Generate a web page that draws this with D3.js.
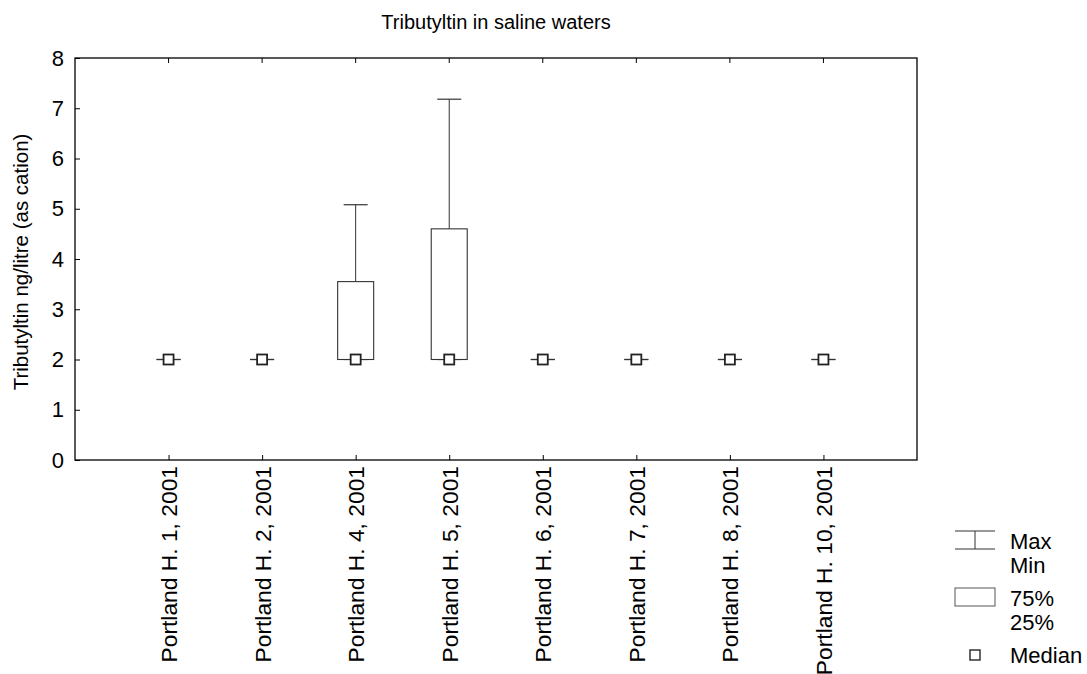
<!DOCTYPE html>
<html><head><meta charset="utf-8">
<script src="https://cdn.jsdelivr.net/npm/d3@7"></script>
<style>body{margin:0;background:#fff}svg{display:block;font-family:Arial,"Liberation Sans",sans-serif}</style>
</head><body>
<svg id="c" width="1087" height="674"></svg>
<script>
const categories = ["Portland H. 1, 2001","Portland H. 2, 2001","Portland H. 4, 2001","Portland H. 5, 2001","Portland H. 6, 2001","Portland H. 7, 2001","Portland H. 8, 2001","Portland H. 10, 2001"];
const minValues = [2,2,2,2,2,2,2,2];
const q25Values = [2,2,2,2,2,2,2,2];
const medianValues = [2,2,2,2,2,2,2,2];
const q75Values = [2,2,3.55,4.6,2,2,2,2];
const maxValues = [2,2,5.08,7.18,2,2,2,2];
const yTicks = [0,1,2,3,4,5,6,7,8];
const legendLabels = ["Max","Min","75%","25%","Median"];

const FONT = "Arial,'Liberation Sans',sans-serif";
const svg = d3.select("#c");
const L = 75, R = 917, T = 58, B = 460;
const y = d3.scaleLinear().domain([0,8]).range([B,T]);
const x = d3.scalePoint().domain(["_s",...categories,"_e"]).range([L,R]);
const data = categories.map((c,i)=>({c,min:minValues[i],q25:q25Values[i],med:medianValues[i],q75:q75Values[i],max:maxValues[i]}));

// title
svg.append("text").attr("x",496).attr("y",29).attr("text-anchor","middle").attr("font-size",20).text("Tributyltin in saline waters");

// frame
svg.append("rect").attr("x",L).attr("y",T).attr("width",R-L).attr("height",B-T).attr("fill","none").attr("stroke","#000").attr("stroke-width",1.3);

// y axis
const ya = svg.append("g").attr("transform",`translate(${L},0)`).call(d3.axisLeft(y).tickValues(yTicks).tickSize(-5).tickPadding(11).tickFormat(d3.format("d")));
ya.select(".domain").remove();
ya.selectAll("text").attr("font-size",22).attr("font-family",FONT).attr("fill","#000");
ya.selectAll("line").attr("stroke","#000");

// x axis (bottom ticks inward, labels rotated)
const xa = svg.append("g").attr("transform",`translate(0,${B})`).call(d3.axisBottom(x).tickValues(categories).tickSize(-5).tickFormat(d=>d));
xa.select(".domain").remove();
xa.selectAll("line").attr("stroke","#000");
xa.selectAll("text").attr("font-size",22.8).attr("font-family",FONT).attr("fill","#000")
  .attr("transform","rotate(-90)").attr("text-anchor","end").attr("x",-6).attr("y",0).attr("dy","0.35em");
// top ticks inward
svg.append("g").attr("transform",`translate(0,${T})`).selectAll("line").data(categories).join("line")
  .attr("x1",d=>x(d)).attr("x2",d=>x(d)).attr("y1",0).attr("y2",5).attr("stroke","#000");

// y label
svg.append("text").attr("transform",`translate(28,${(T+B)/2+3}) rotate(-90)`).attr("text-anchor","middle").attr("font-size",20.5).text("Tributyltin ng/litre (as cation)");

const bw = 36, cw = 24, ms = 10;
const g = svg.append("g").selectAll("g").data(data).join("g").attr("transform",d=>`translate(${x(d.c)},0)`);
// whisker
g.append("line").attr("x1",0).attr("x2",0).attr("y1",d=>y(d.max)).attr("y2",d=>y(d.q75)).attr("stroke","#333");
g.append("line").attr("x1",-cw/2).attr("x2",cw/2).attr("y1",d=>y(d.max)).attr("y2",d=>y(d.max)).attr("stroke","#333").attr("stroke-width",1.2);
g.append("line").attr("x1",-cw/2).attr("x2",cw/2).attr("y1",d=>y(d.min)).attr("y2",d=>y(d.min)).attr("stroke","#333").attr("stroke-width",1.2);
// box
g.append("rect").attr("x",-bw/2).attr("width",bw).attr("y",d=>y(d.q75)).attr("height",d=>y(d.q25)-y(d.q75)).attr("fill","#fff").attr("stroke","#333").attr("stroke-width",1.1);
// median
g.append("rect").attr("x",-ms/2).attr("y",d=>y(d.med)-ms/2).attr("width",ms).attr("height",ms).attr("fill","#fff").attr("stroke","#222").attr("stroke-width",1.8);

// legend
const lg = svg.append("g");
lg.append("line").attr("x1",955).attr("x2",995).attr("y1",531).attr("y2",531).attr("stroke","#333");
lg.append("line").attr("x1",955).attr("x2",995).attr("y1",549).attr("y2",549).attr("stroke","#333");
lg.append("line").attr("x1",975).attr("x2",975).attr("y1",531).attr("y2",549).attr("stroke","#333");
lg.append("rect").attr("x",955).attr("y",588).attr("width",40).attr("height",18).attr("fill","#fff").attr("stroke","#555");
lg.append("rect").attr("x",970).attr("y",650).attr("width",10).attr("height",10).attr("fill","#fff").attr("stroke","#333").attr("stroke-width",1.5);
const ly = [549,573,606,630,663];
lg.selectAll("text").data(legendLabels).join("text").attr("x",1010).attr("y",(d,i)=>ly[i]).attr("font-size",22).text(d=>d);
</script>
</body></html>
